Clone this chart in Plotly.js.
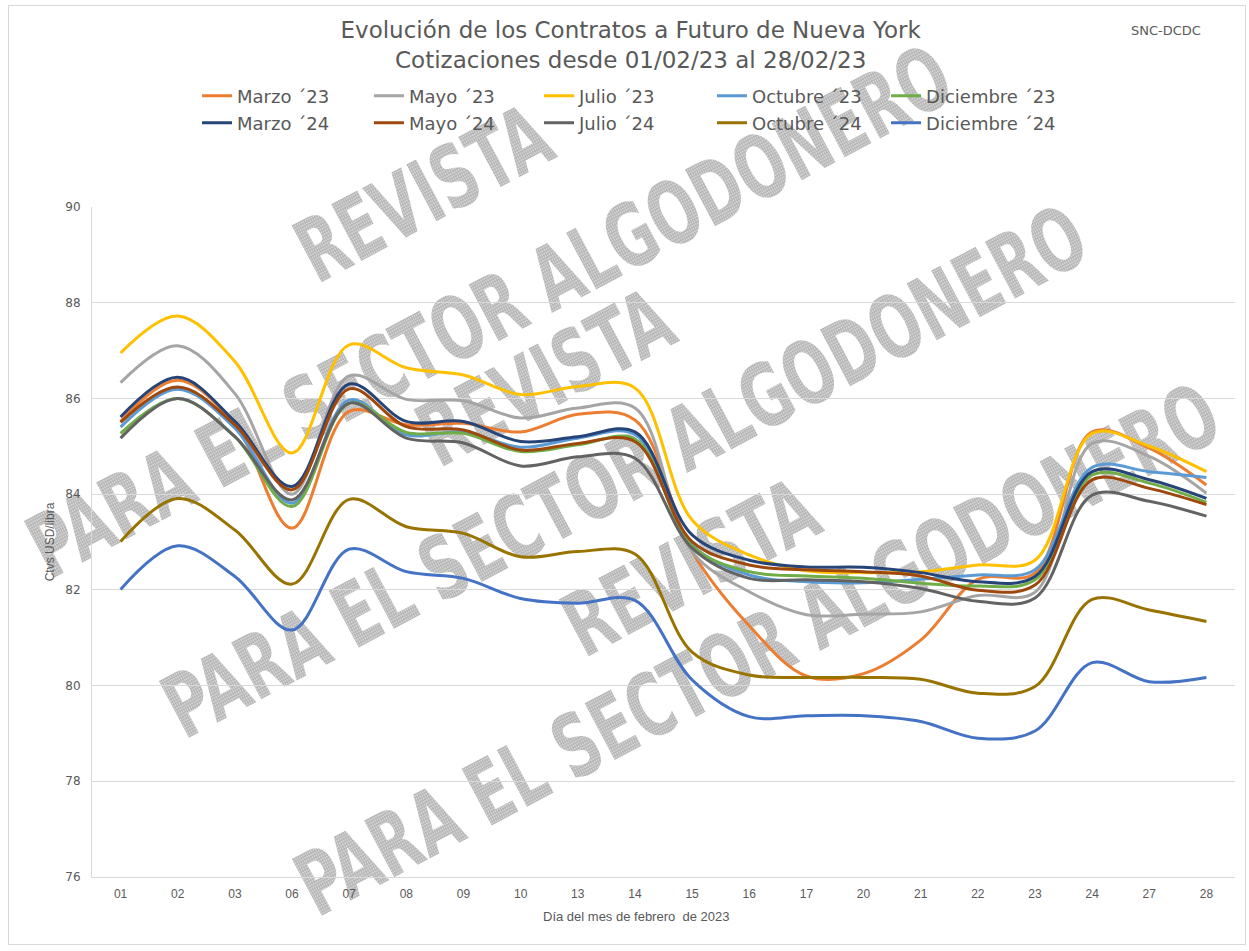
<!DOCTYPE html>
<html>
<head>
<meta charset="utf-8">
<script src="https://cdn.plot.ly/plotly-3.0.1.min.js"></script>
<style>
html,body{margin:0;padding:0;background:#fff;width:1249px;height:951px;overflow:hidden;}
#frame{position:absolute;left:8px;top:5px;width:1236px;height:938px;border:1px solid #d9d9d9;z-index:0;}
#wm{position:absolute;left:0;top:0;width:1249px;height:951px;z-index:1;pointer-events:none;overflow:hidden;}
.wm{position:absolute;white-space:nowrap;font-family:"Liberation Sans Narrow","DejaVu Sans Condensed","Liberation Sans",sans-serif;font-weight:bold;font-size:88px;line-height:1;color:transparent;background-image:radial-gradient(circle,#b4b4b4 1.1px,#e6e6e6 1.6px);background-size:3px 3px;-webkit-background-clip:text;background-clip:text;transform-origin:50% 50%;}
#chart{position:absolute;left:9px;top:6px;width:1236px;height:938px;z-index:2;}
</style>
</head>
<body>
<div id="frame"></div>
<div id="wm"></div>
<div id="chart"></div>
<script>
// ---- data ----
const days = ['01','02','03','06','07','08','09','10','13','14','15','16','17','20','21','22','23','24','27','28'];

const seriesNames = ['Marzo ´23','Mayo ´23','Julio ´23','Octubre ´23','Diciembre ´23',
                     'Marzo ´24','Mayo ´24','Julio ´24','Octubre ´24','Diciembre ´24'];

const marzo23     = [85.52,86.38,85.45,83.29,85.73,85.45,85.48,85.30,85.67,85.55,82.80,81.25,80.20,80.25,80.95,82.22,82.35,85.30,84.96,84.19];
const mayo23      = [86.33,87.10,86.10,84.00,86.47,85.98,85.95,85.59,85.80,85.80,82.80,81.96,81.48,81.49,81.54,81.88,81.95,85.06,84.79,84.02];
const julio23     = [86.95,87.72,86.77,84.86,87.12,86.64,86.49,86.08,86.25,86.22,83.46,82.73,82.40,82.36,82.38,82.52,82.62,85.27,85.00,84.47];
const octubre23   = [85.40,86.19,85.38,83.81,85.97,85.24,85.30,84.98,85.17,85.25,82.94,82.31,82.17,82.15,82.22,82.31,82.42,84.56,84.47,84.35];
const diciembre23 = [85.27,86.00,85.20,83.74,85.90,85.29,85.27,84.89,85.03,85.15,82.92,82.38,82.29,82.24,82.14,82.08,82.21,84.40,84.23,83.83];
const marzo24     = [85.61,86.44,85.52,84.16,86.30,85.52,85.52,85.10,85.20,85.30,83.15,82.62,82.48,82.47,82.36,82.17,82.28,84.47,84.30,83.91];
const mayo24      = [85.50,86.24,85.45,84.09,86.20,85.41,85.34,84.92,85.06,85.10,83.01,82.52,82.42,82.38,82.29,81.99,82.10,84.30,84.12,83.78];
const julio24     = [85.17,86.00,85.20,83.88,85.90,85.17,85.07,84.59,84.78,84.75,82.87,82.24,82.21,82.17,82.03,81.76,81.83,83.98,83.85,83.54];
const octubre24   = [83.01,83.91,83.25,82.12,83.89,83.32,83.18,82.69,82.80,82.75,80.70,80.22,80.17,80.17,80.13,79.84,79.98,81.80,81.58,81.34];
const diciembre24 = [82.01,82.92,82.28,81.16,82.85,82.38,82.24,81.82,81.72,81.78,80.12,79.35,79.37,79.37,79.25,78.90,79.05,80.48,80.08,80.17];

const allSeries = [marzo23,mayo23,julio23,octubre23,diciembre23,marzo24,mayo24,julio24,octubre24,diciembre24];
const colors = ['#ED7D31','#A5A5A5','#FFC000','#5B9BD5','#70AD47','#264478','#9E480E','#636363','#997300','#4472C4'];

// legend grid: 5 columns x 2 rows, each entry in its own legend box
const legendCols = [0.0919, 0.2423, 0.3911, 0.5424, 0.6947];
const legendRows = [1.1657, 1.1254];
const legendIds = allSeries.map((_,i)=> i===0 ? 'legend' : 'legend'+(i+1));

const traces = allSeries.map((vals,i)=>({
  type:'scatter', mode:'lines', x:days, y:vals, name:seriesNames[i],
  line:{color:colors[i], width:3, shape:'spline', smoothing:1},
  legend: legendIds[i],
  hoverinfo:'skip'
}));

const layout = {
  width:1236, height:938,
  margin:{l:83, r:10, t:201, b:67},
  paper_bgcolor:'rgba(0,0,0,0)', plot_bgcolor:'rgba(0,0,0,0)',
  font:{family:'DejaVu Sans, Liberation Sans, sans-serif', color:'#595959', size:12},
  title:{text:'Evolución de los Contratos a Futuro de Nueva York<br>Cotizaciones desde 01/02/23 al 28/02/23',
         font:{size:23,color:'#595959'}, x:0.503, xanchor:'center', xref:'container', y:0.966, yanchor:'top', yref:'container'},
  xaxis:{type:'category', range:[-0.5,19.5], showgrid:false, showline:true, linecolor:'#d9d9d9', linewidth:1,
         ticks:'outside', ticklen:6, tickcolor:'rgba(0,0,0,0)',
         tickfont:{size:12, family:'Liberation Sans Narrow, Liberation Sans, sans-serif', color:'#595959'}},
  yaxis:{range:[76,90], tick0:76, dtick:2, showgrid:true, gridcolor:'#d9d9d9', gridwidth:1,
         showline:true, linecolor:'#d9d9d9', zeroline:false,
         ticks:'outside', ticklen:8, tickcolor:'rgba(0,0,0,0)',
         tickfont:{size:12, color:'#595959'},
         title:{text:'Ctvs USD/libra', font:{size:12, family:'Liberation Sans Narrow, Liberation Sans, sans-serif', color:'#595959'}, standoff:8}},
  showlegend:true,
  annotations:[
    {text:'SNC-DCDC', xref:'paper', yref:'paper', x:0.9396, y:1.2627, xanchor:'center', yanchor:'middle',
     showarrow:false, font:{size:13,color:'#595959'}},
    {text:'Día del mes de febrero  de 2023', xref:'paper', yref:'paper', x:(636-92)/1143, y:-(916-877)/670,
     xanchor:'center', yanchor:'middle', showarrow:false,
     font:{size:13, family:'Liberation Sans Narrow, Liberation Sans, sans-serif', color:'#595959'}}
  ]
};

legendIds.forEach((id,i)=>{
  layout[id] = {orientation:'h', xanchor:'left', yanchor:'middle',
    x: legendCols[i%5], y: legendRows[Math.floor(i/5)],
    font:{size:18,color:'#595959'}, bgcolor:'rgba(0,0,0,0)', borderwidth:0};
});

Plotly.newPlot('chart', traces, layout, {displayModeBar:false, staticPlot:true});

// ---- watermark (background text) ----
const wmItems = [
  {t:'REVISTA', x:423, y:194},
  {t:'PARA EL SECTOR ALGODONERO', x:490, y:312},
  {t:'REVISTA', x:545, y:378},
  {t:'PARA EL SECTOR ALGODONERO', x:625, y:472},
  {t:'REVISTA', x:690, y:568},
  {t:'PARA EL SECTOR ALGODONERO', x:758, y:650}
];
const wm = document.getElementById('wm');
const els = wmItems.map(it=>{ const d=document.createElement('div'); d.className='wm'; d.textContent=it.t; wm.appendChild(d); return d; });
const longW = els[1].offsetWidth;
const sx = 1030/longW;
els.forEach((d,i)=>{
  const w=d.offsetWidth, h=d.offsetHeight;
  d.style.left=(wmItems[i].x - w/2)+'px';
  d.style.top=(wmItems[i].y - h/2)+'px';
  d.style.transform='rotate(-28deg) scaleX('+sx.toFixed(3)+')';
});
</script>
</body>
</html>
